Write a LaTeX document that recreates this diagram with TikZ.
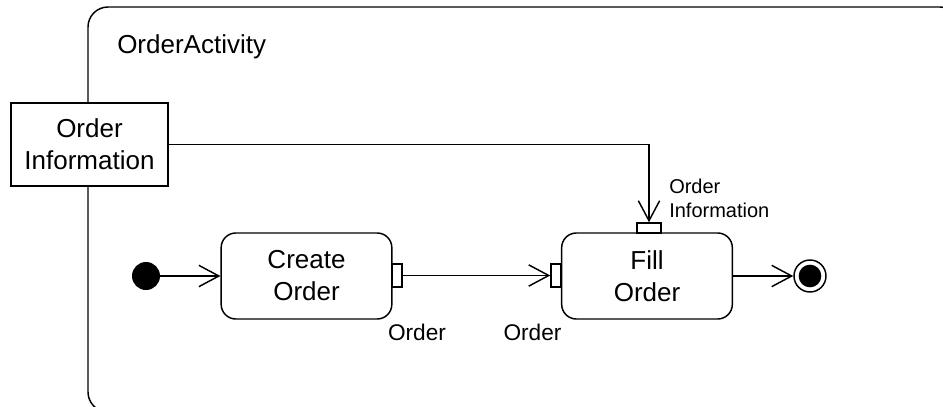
\documentclass[tikz,border=0pt]{standalone}
\usepackage{fontspec}
\setmainfont{Liberation Sans}
\usetikzlibrary{arrows.meta}

\tikzset{
  bigtext/.style={font=\fontsize{19.5}{24}\selectfont},
  action/.style={rectangle, draw=black, line width=1.1pt, rounded corners=11pt, minimum width=128pt, minimum height=64.5pt, align=center, bigtext},
  objbox/.style={rectangle, draw=black, line width=1.1pt, fill=white, minimum width=117.75pt, minimum height=62.25pt, inner sep=0pt, align=center, bigtext},
  pinbox/.style={rectangle, draw=black, line width=1.1pt, fill=white, inner sep=0pt},
  pinlabel/.style={inner sep=0pt, font=\fontsize{17}{20}\selectfont},
  flow/.style={-{Straight Barb[length=15pt,width=16pt]}, line width=1.1pt}
}

\begin{document}
\begin{tikzpicture}[x=0.75pt, y=-0.75pt]

\useasboundingbox (0,0) rectangle (943,407);
\clip (0,0) rectangle (943,407);

% activity frame
\draw[line width=1.1pt, rounded corners=15pt] (88,7) rectangle (960,412);
\node (title) at (117,47) [anchor=west, inner sep=0pt, bigtext] {OrderActivity};

\node (info) at (89.5,144.5) [objbox] {Order\\Information};

\node (init) at (146,276) [circle, fill=black, minimum size=21pt, inner sep=0pt] {};
\node (create) at (306.5,276) [action] {Create\\Order};
\node (fill) at (647,276) [action] {Fill\\Order};
\node (final) at (810,276) [circle, draw=black, line width=1.1pt, minimum size=24pt, inner sep=0pt,
  path picture={\fill[black] (path picture bounding box.center) circle (8.5pt);}] {};

% pins
\node (pin-co) at (397,275.5) [pinbox, minimum width=7.5pt, minimum height=17.25pt] {};
\node (pin-fo) at (556,275.5) [pinbox, minimum width=7.5pt, minimum height=17.25pt] {};
\node (pin-fi) at (649,228) [pinbox, minimum width=18pt, minimum height=7.5pt] {};

\node (lbl-co) at (417,332) [pinlabel] {Order};
\node (lbl-fo) at (532.5,332) [pinlabel] {Order};
\node (lbl-fi) at (669,198) [anchor=west, align=left, inner sep=0pt, font=\fontsize{15}{18}\selectfont] {Order\\Information};

\draw[flow] (init) -- (create);
\draw[flow] (pin-co) -- (pin-fo);
\draw[flow] (fill) -- (final);
\draw[flow] (info) -| (pin-fi);

\end{tikzpicture}
\end{document}
